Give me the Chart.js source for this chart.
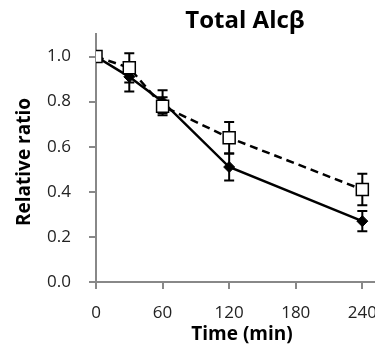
<!DOCTYPE html>
<html>
<head>
<meta charset="utf-8">
<script src="https://cdn.jsdelivr.net/npm/chart.js@4"></script>
<style>
  html, body { margin: 0; padding: 0; background: #fff; }
  #wrap { width: 375px; height: 351px; overflow: hidden; }
</style>
</head>
<body>
<!-- el original está recortado a la derecha: lienzo algo más ancho que la ventana -->
<div id="wrap"><canvas id="chart" width="392" height="351"></canvas></div>
<script>
// Datos
const times = [0, 30, 60, 120, 240];
const solidVals = [1.0, 0.91, 0.80, 0.51, 0.27];
const solidErr = [0, 0.065, 0.05, 0.06, 0.045];
const dashVals = [1.0, 0.95, 0.78, 0.64, 0.41];
const dashErr = [0, 0.065, 0.04, 0.07, 0.07];
const xTicks = [0, 60, 120, 180, 240];
const yTicks = [0, 0.2, 0.4, 0.6, 0.8, 1.0];

const FONT = '"Open Sans", "Liberation Sans", sans-serif';

// Barras de error dibujadas con las escalas del gráfico
const errorBars = {
    id: 'errorBars',
    beforeDatasetsDraw(chart) {
        const { ctx, scales: { x, y } } = chart;
        ctx.save();
        ctx.strokeStyle = '#000';
        ctx.lineWidth = 2;
        chart.data.datasets.forEach(ds => {
            ds.data.forEach((p, i) => {
                const e = ds.errors[i];
                if (!e) return;
                const px = x.getPixelForValue(p.x);
                const top = y.getPixelForValue(p.y + e);
                const bot = y.getPixelForValue(p.y - e);
                ctx.beginPath();
                ctx.moveTo(px, top); ctx.lineTo(px, bot);
                ctx.moveTo(px - 5, top); ctx.lineTo(px + 5, top);
                ctx.moveTo(px - 5, bot); ctx.lineTo(px + 5, bot);
                ctx.stroke();
            });
        });
        ctx.restore();
    }
};

// Títulos
const titles = {
    id: 'titles',
    afterDraw(chart) {
        const ctx = chart.ctx;
        ctx.save();
        ctx.fillStyle = '#000';
        ctx.textAlign = 'center';
        ctx.textBaseline = 'alphabetic';
        ctx.font = 'bold 24px ' + FONT;
        ctx.fillText('Total Alcβ', 245, 28);
        ctx.font = 'bold 19px ' + FONT;
        ctx.fillText('Time (min)', 242, 340);
        ctx.translate(25, 162);
        ctx.rotate(-Math.PI / 2);
        ctx.textBaseline = 'middle';
        ctx.fillText('Relative ratio', 0, 0);
        ctx.restore();
    }
};

const ctx = document.getElementById('chart').getContext('2d');
const chart = new Chart(ctx, {
    type: 'line',
    data: {
        datasets: [
            {
                data: times.map((t, i) => ({ x: t, y: dashVals[i] })),
                errors: dashErr,
                borderColor: '#000',
                borderWidth: 2.5,
                borderDash: [8, 5],
                pointStyle: 'rect',
                pointRadius: 8.5,
                pointBackgroundColor: '#fff',
                pointBorderColor: '#000',
                pointBorderWidth: 1.5,
                fill: false
            },
            {
                data: times.map((t, i) => ({ x: t, y: solidVals[i] })),
                errors: solidErr,
                borderColor: '#000',
                borderWidth: 2.5,
                pointStyle: 'rectRot',
                pointRadius: 5.5,
                pointBackgroundColor: '#000',
                pointBorderColor: '#000',
                pointBorderWidth: 1,
                fill: false
            }
        ]
    },
    options: {
        responsive: false,
        animation: false,
        devicePixelRatio: 1,
        layout: { padding: { top: 34, left: 0, right: 0, bottom: 0 } },
        plugins: {
            legend: { display: false },
            tooltip: { enabled: false },
            title: { display: false }
        },
        scales: {
            x: {
                type: 'linear',
                min: 0,
                max: 255,
                afterBuildTicks: s => { s.ticks = xTicks.map(v => ({ value: v })); },
                afterFit: s => { s.height = 69; },
                grid: { drawOnChartArea: false, tickLength: 7, color: '#888', lineWidth: 2 },
                border: { color: '#888', width: 2 },
                ticks: { font: { family: FONT, size: 17 }, color: '#222', padding: 14, maxRotation: 0 }
            },
            y: {
                min: 0,
                max: 1.1,
                afterBuildTicks: s => { s.ticks = yTicks.map(v => ({ value: v })); },
                afterFit: s => { s.width = 96; },
                grid: { drawOnChartArea: false, tickLength: 7, color: '#888', lineWidth: 2 },
                border: { color: '#888', width: 2 },
                ticks: { font: { family: FONT, size: 17 }, color: '#222', padding: 18, callback: v => v.toFixed(1) }
            }
        }
    },
    plugins: [errorBars, titles]
});

// Ajustar el rango del eje x: 60 min ≈ 66 px como en el original
const area = chart.chartArea;
chart.options.scales.x.max = 60 * (area.right - area.left) / 66;
chart.update();
</script>
</body>
</html>
